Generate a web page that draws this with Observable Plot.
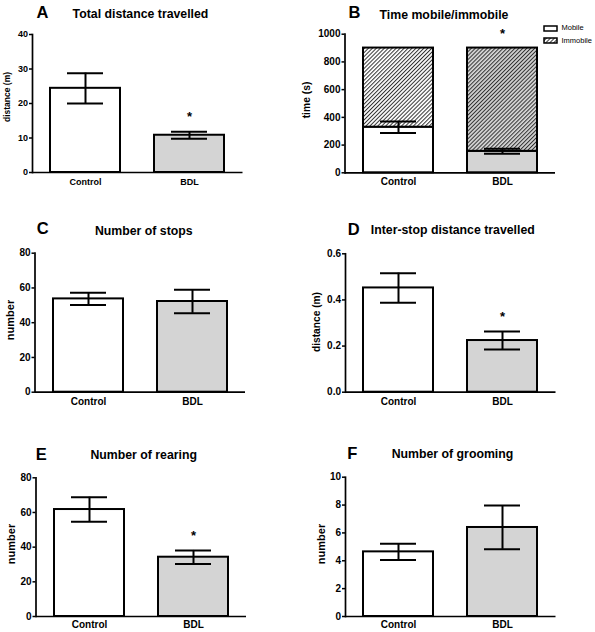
<!DOCTYPE html>
<html><head><meta charset="utf-8">
<script src="https://cdn.jsdelivr.net/npm/d3@7"></script>
<script src="https://cdn.jsdelivr.net/npm/@observablehq/plot@0.6"></script>
<style>
html,body{margin:0;padding:0;background:#fff;}
#root{position:relative;width:595px;height:632px;overflow:hidden;font-family:'Liberation Sans',Arial,sans-serif;color:#000;background:#fff;}
.abs{position:absolute;white-space:nowrap;line-height:1;}
.title{font-weight:bold;font-size:12.3px;transform:translate(-50%,-50%);}
.letter{font-weight:bold;font-size:16.5px;transform:translate(-50%,-50%);}
.ylab{font-weight:bold;transform:translate(-50%,-50%) rotate(-90deg);}
.leg{font-size:7.5px;transform:translateY(-50%);color:#000;}
</style></head><body><div id="root"></div>
<script>
// ---------- data ----------
const categories = ["Control", "BDL"];

const distanceMean = [24.4, 10.8];
const distanceSem = [4.4, 1.0];
const distanceSig = [false, true];
const distanceTicks = [0, 10, 20, 30, 40];

const mobileMean = [329, 155];
const mobileSem = [41, 18];
const sessionTotal = [900, 900];
const mobileSig = [false, true];
const timeTicks = [0, 200, 400, 600, 800, 1000];
const legendLabels = ["Mobile", "Immobile"];

const stopsMean = [53.7, 52.2];
const stopsSem = [3.5, 6.8];
const stopsSig = [false, false];
const stopsTicks = [0, 20, 40, 60, 80];

const interStopMean = [0.452, 0.224];
const interStopSem = [0.064, 0.039];
const interStopSig = [false, true];
const interStopTicks = [0, 0.2, 0.4, 0.6];

const rearingMean = [61.7, 34.2];
const rearingSem = [7.1, 3.9];
const rearingSig = [false, true];
const rearingTicks = [0, 20, 40, 60, 80];

const groomingMean = [4.64, 6.39];
const groomingSem = [0.58, 1.57];
const groomingSig = [false, false];
const groomingTicks = [0, 2, 4, 6, 8, 10];

// ---------- helpers ----------
const root = document.getElementById("root");
const fillSolid = ["#ffffff", "#d4d4d4"];
const fillHatch = ["url(#hatchW)", "url(#hatchG)"];

// pattern definitions
const defsSvg = d3.create("svg").attr("width", 0).attr("height", 0)
  .style("position", "absolute").style("left", 0).style("top", 0);
const defs = defsSvg.append("defs");
[["hatchW", "#ffffff"], ["hatchG", "#d4d4d4"]].forEach(([id, bg]) => {
  const p = defs.append("pattern").attr("id", id).attr("patternUnits", "userSpaceOnUse")
    .attr("width", 2.8).attr("height", 2.8).attr("patternTransform", "rotate(45)");
  p.append("rect").attr("width", 2.8).attr("height", 2.8).attr("fill", bg);
  p.append("line").attr("x1", 0.5).attr("y1", 0).attr("x2", 0.5).attr("y2", 2.8)
    .attr("stroke", "#333").attr("stroke-width", 1);
});
root.appendChild(defsSvg.node());

function rowsOf(mean, sem, sig, total) {
  return categories.map((c, i) => ({group: c, idx: i, mean: mean[i], sem: sem[i], sig: sig[i], total: total ? total[i] : null}));
}

function addText(cls, text, x, y, extra) {
  const d = document.createElement("div");
  d.className = "abs " + cls;
  d.textContent = text;
  d.style.left = x + "px";
  d.style.top = y + "px";
  if (extra) Object.assign(d.style, extra);
  root.appendChild(d);
}

const FW = 210.5;
function makePanel(cfg) {
  const {box: [x0, y0, w, h], frame: [fl, ft, fb], rows, yDomain, ticks, fmt, stacked, fontSize, xPad} = cfg;
  const marks = [];
  if (stacked) {
    marks.push(Plot.barY(rows, {x: "group", y1: () => 0, y2: "mean", fill: d => fillSolid[d.idx], stroke: "black", strokeWidth: 2}));
    marks.push(Plot.barY(rows, {x: "group", y1: "mean", y2: "total", fill: d => fillHatch[d.idx], stroke: "black", strokeWidth: 2}));
  } else {
    marks.push(Plot.barY(rows, {x: "group", y: "mean", fill: d => fillSolid[d.idx], stroke: "black", strokeWidth: 2}));
  }
  marks.push(Plot.ruleX(rows, {x: "group", y1: d => d.mean - d.sem, y2: d => d.mean + d.sem, stroke: "black", strokeWidth: 2}));
  marks.push(Plot.tickY(rows, {x: "group", y: d => d.mean + d.sem, insetLeft: 17, insetRight: 17, stroke: "black", strokeWidth: 2}));
  marks.push(Plot.tickY(rows, {x: "group", y: d => d.mean - d.sem, insetLeft: 17, insetRight: 17, stroke: "black", strokeWidth: 2}));
  marks.push(Plot.ruleY([0], {stroke: "black", strokeWidth: 1.7}));
  marks.push(Plot.frame({anchor: "left", stroke: "black", strokeWidth: 1.7}));
  marks.push(Plot.axisY({ticks, tickFormat: fmt, tickSize: 3, tickPadding: 1.5, strokeWidth: 1.5, label: null, fontSize, fontWeight: "bold"}));
  marks.push(Plot.axisX({tickSize: 0, tickPadding: xPad, label: null, fontSize, fontWeight: "bold"}));
  marks.push(Plot.text(rows.filter(d => d.sig), {x: "group", y: d => stacked ? d.total : d.mean + d.sem, text: () => "*", dy: -14.5, fontSize: 13, fontWeight: "bold"}));
  const ml = fl - x0;
  const svg = Plot.plot({
    width: w, height: h,
    marginLeft: ml, marginRight: w - ml - FW,
    marginTop: ft - y0, marginBottom: y0 + h - fb,
    x: {domain: categories, paddingInner: 0.33, paddingOuter: 0.172},
    y: {domain: yDomain},
    color: {type: "identity"},
    style: {fontFamily: "'Liberation Sans', Arial, sans-serif", fontSize: fontSize + "px", fontWeight: "bold", color: "black", background: "transparent", overflow: "visible"},
    marks
  });
  svg.style.position = "absolute";
  svg.style.left = x0 + "px";
  svg.style.top = y0 + "px";
  root.appendChild(svg);
}

// ---------- panels ----------
makePanel({box: [0, 20, 297, 185], frame: [32, 34, 172], rows: rowsOf(distanceMean, distanceSem, distanceSig),
  yDomain: [0, 40], ticks: distanceTicks, fmt: d3.format("d"), fontSize: 9, xPad: 6});
makePanel({box: [297, 20, 298, 185], frame: [344.5, 33.7, 172.3], rows: rowsOf(mobileMean, mobileSem, mobileSig, sessionTotal),
  yDomain: [0, 1000], ticks: timeTicks, fmt: d3.format("d"), stacked: true, fontSize: 10, xPad: 5.5});
makePanel({box: [0, 240, 297, 185], frame: [34.5, 252.7, 391.7], rows: rowsOf(stopsMean, stopsSem, stopsSig),
  yDomain: [0, 80], ticks: stopsTicks, fmt: d3.format("d"), fontSize: 10, xPad: 5.5});
makePanel({box: [297, 240, 298, 185], frame: [345, 253.3, 391.7], rows: rowsOf(interStopMean, interStopSem, interStopSig),
  yDomain: [0, 0.6], ticks: interStopTicks, fmt: d3.format(".1f"), fontSize: 10, xPad: 6});
makePanel({box: [0, 462, 297, 170], frame: [35.5, 477.3, 616], rows: rowsOf(rearingMean, rearingSem, rearingSig),
  yDomain: [0, 80], ticks: rearingTicks, fmt: d3.format("d"), fontSize: 10, xPad: 4});
makePanel({box: [297, 462, 298, 170], frame: [345, 476.7, 616], rows: rowsOf(groomingMean, groomingSem, groomingSig),
  yDomain: [0, 10], ticks: groomingTicks, fmt: d3.format("d"), fontSize: 10, xPad: 4});

// ---------- titles, letters, y labels ----------
addText("letter", "A", 42.5, 12);
addText("title", "Total distance travelled", 140.5, 14);
addText("ylab", "distance (m)", 6.5, 97, {fontSize: "8.5px"});

addText("letter", "B", 354.5, 12);
addText("title", "Time mobile/immobile", 444, 15);
addText("ylab", "time (s)", 307, 100, {fontSize: "10.3px"});

addText("letter", "C", 42.7, 227.5);
addText("title", "Number of stops", 143.8, 230.7);
addText("ylab", "number", 10.3, 320, {fontSize: "11px"});

addText("letter", "D", 353.7, 229.2);
addText("title", "Inter-stop distance travelled", 452.8, 230);
addText("ylab", "distance (m)", 317, 321.7, {fontSize: "10.2px"});

addText("letter", "E", 41.3, 453.8);
addText("title", "Number of rearing", 143.7, 455);
addText("ylab", "number", 11, 543.8, {fontSize: "11px"});

addText("letter", "F", 352.2, 452.5);
addText("title", "Number of grooming", 452.5, 454.3);
addText("ylab", "number", 320.5, 544, {fontSize: "11px"});

// ---------- legend for panel B ----------
const legendFills = ["#ffffff", "url(#hatchW)"];
legendLabels.forEach((lab, i) => {
  const cy = 28.3 + i * 12.4;
  const sw = d3.create("svg").attr("width", 15).attr("height", 7)
    .style("position", "absolute").style("left", "542.5px").style("top", (cy - 3.5) + "px");
  sw.append("rect").attr("x", 1).attr("y", 1).attr("width", 13).attr("height", 5)
    .attr("fill", legendFills[i]).attr("stroke", "black").attr("stroke-width", 1.5);
  root.appendChild(sw.node());
  addText("leg", lab, 561.5, cy);
});
</script></body></html>
